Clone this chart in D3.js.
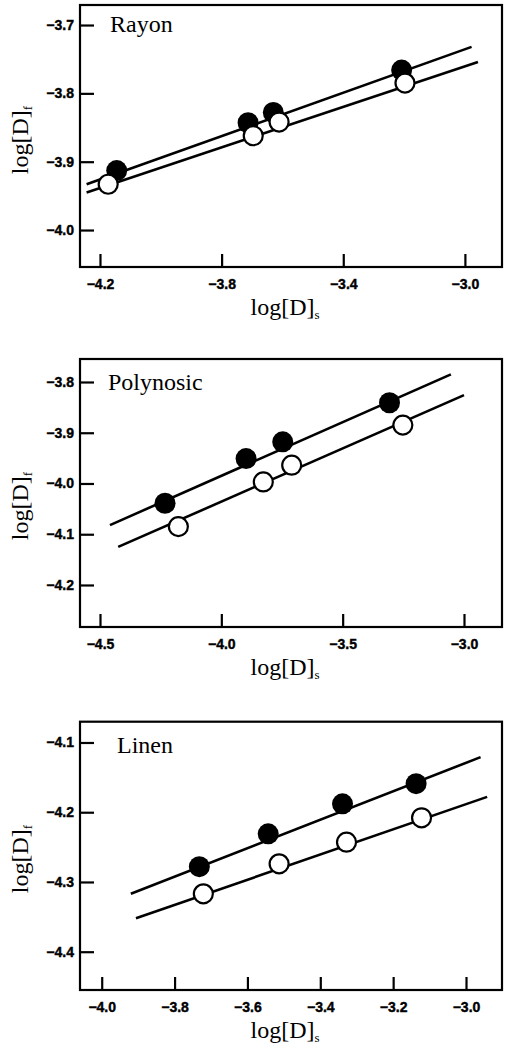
<!DOCTYPE html>
<html>
<head>
<meta charset="utf-8">
<script src="https://cdn.jsdelivr.net/npm/d3@7"></script>
<style>
  body { margin: 0; background: #fff; }
  svg { display: block; }
</style>
</head>
<body>
<div id="plot"></div>
<script>
// data: [log[D]s, log[D]f]
const panelNames = ["Rayon", "Polynosic", "Linen"];

const rayonFilled = [[-4.145, -3.913], [-3.713, -3.843], [-3.630, -3.828], [-3.208, -3.766]];
const rayonOpen = [[-4.173, -3.933], [-3.696, -3.862], [-3.611, -3.842], [-3.197, -3.785]];
const rayonFilledLine = [[-4.244, -3.933], [-2.978, -3.732]];
const rayonOpenLine = [[-4.244, -3.945], [-2.957, -3.754]];

const polyFilled = [[-4.232, -4.039], [-3.898, -3.951], [-3.747, -3.918], [-3.307, -3.841]];
const polyOpen = [[-4.177, -4.085], [-3.827, -3.997], [-3.710, -3.964], [-3.252, -3.885]];
const polyFilledLine = [[-4.459, -4.082], [-3.054, -3.785]];
const polyOpenLine = [[-4.425, -4.125], [-3.000, -3.826]];

const linenFilled = [[-3.732, -4.278], [-3.543, -4.231], [-3.339, -4.188], [-3.137, -4.159]];
const linenOpen = [[-3.721, -4.317], [-3.513, -4.274], [-3.328, -4.243], [-3.122, -4.208]];
const linenFilledLine = [[-3.920, -4.317], [-2.960, -4.121]];
const linenOpenLine = [[-3.906, -4.352], [-2.942, -4.178]];

// tick values
const rayonXTicks = [-4.2, -3.8, -3.4, -3.0];
const rayonYTicks = [-3.7, -3.8, -3.9, -4.0];
const polyXTicks = [-4.5, -4.0, -3.5, -3.0];
const polyYTicks = [-3.8, -3.9, -4.0, -4.1, -4.2];
const linenXTicks = [-4.0, -3.8, -3.6, -3.4, -3.2, -3.0];
const linenYTicks = [-4.1, -4.2, -4.3, -4.4];

// axis extents
const rayonXDomain = [-4.2657, -2.878], rayonYDomain = [-4.0541, -3.6707];
const polyXDomain = [-4.5824, -2.8434], polyYDomain = [-4.2828, -3.7547];
const linenXDomain = [-4.0596, -2.9012], linenYDomain = [-4.4549, -4.0702];

const width = 506;
const height = 1047;

const svg = d3.select("#plot").append("svg")
    .attr("width", width)
    .attr("height", height);

// layout of each panel on the page
const panels = [
    {name: panelNames[0], top: 5, bottom: 267, xDomain: rayonXDomain, yDomain: rayonYDomain,
     xTicks: rayonXTicks, yTicks: rayonYTicks, filled: rayonFilled, open: rayonOpen,
     filledLine: rayonFilledLine, openLine: rayonOpenLine, labelX: 110, labelY: 32, yTitle: 140},
    {name: panelNames[1], top: 359, bottom: 627, xDomain: polyXDomain, yDomain: polyYDomain,
     xTicks: polyXTicks, yTicks: polyYTicks, filled: polyFilled, open: polyOpen,
     filledLine: polyFilledLine, openLine: polyOpenLine, labelX: 108, labelY: 390, yTitle: 506},
    {name: panelNames[2], top: 721.7, bottom: 990, xDomain: linenXDomain, yDomain: linenYDomain,
     xTicks: linenXTicks, yTicks: linenYTicks, filled: linenFilled, open: linenOpen,
     filledLine: linenFilledLine, openLine: linenOpenLine, labelX: 117, labelY: 753, yTitle: 859}
];

const left = 80, right = 502;

panels.forEach(p => {
    const g = svg.append("g");

    const xScale = d3.scaleLinear().domain(p.xDomain).range([left, right]);
    const yScale = d3.scaleLinear().domain(p.yDomain).range([p.bottom, p.top]);

    // frame
    g.append("rect")
        .attr("x", left)
        .attr("y", p.top)
        .attr("width", right - left)
        .attr("height", p.bottom - p.top)
        .attr("fill", "none")
        .attr("stroke", "#000")
        .attr("stroke-width", 2.2);

    // axes with inward ticks
    const xAxis = d3.axisBottom(xScale)
        .tickValues(p.xTicks)
        .tickSize(-13)
        .tickPadding(12)
        .tickFormat(d3.format(".1f"));
    const yAxis = d3.axisLeft(yScale)
        .tickValues(p.yTicks)
        .tickSize(-14)
        .tickPadding(6)
        .tickFormat(d3.format(".1f"));

    const gx = g.append("g")
        .attr("transform", `translate(0, ${p.bottom})`)
        .call(xAxis);
    const gy = g.append("g")
        .attr("transform", `translate(${left}, 0)`)
        .call(yAxis);

    [gx, gy].forEach(a => {
        a.select(".domain").remove();
        a.selectAll(".tick line").attr("stroke", "#000").attr("stroke-width", 2.2);
        a.selectAll(".tick text")
            .attr("fill", "#000")
            .attr("font-family", "'Liberation Sans', Arial, sans-serif")
            .attr("font-weight", "bold")
            .attr("font-size", 14)
            .attr("stroke", "#000")
            .attr("stroke-width", 0.4);
    });

    // fitted lines
    const line = d3.line().x(d => xScale(d[0])).y(d => yScale(d[1]));
    [p.filledLine, p.openLine].forEach(l => {
        g.append("path")
            .attr("d", line(l))
            .attr("fill", "none")
            .attr("stroke", "#000")
            .attr("stroke-width", 2.6);
    });

    // points
    g.selectAll(".filled")
        .data(p.filled)
        .enter()
        .append("circle")
        .attr("class", "filled")
        .attr("cx", d => xScale(d[0]))
        .attr("cy", d => yScale(d[1]))
        .attr("r", 10.5)
        .attr("fill", "#000");

    g.selectAll(".open")
        .data(p.open)
        .enter()
        .append("circle")
        .attr("class", "open")
        .attr("cx", d => xScale(d[0]))
        .attr("cy", d => yScale(d[1]))
        .attr("r", 9.5)
        .attr("fill", "#fff")
        .attr("stroke", "#000")
        .attr("stroke-width", 2.2);

    // panel name
    g.append("text")
        .attr("x", p.labelX)
        .attr("y", p.labelY)
        .attr("font-family", "'Liberation Serif', 'Times New Roman', serif")
        .attr("font-size", 24)
        .text(p.name);

    // x axis title
    const xt = g.append("text")
        .attr("x", 285)
        .attr("y", p.bottom + 48)
        .attr("text-anchor", "middle")
        .attr("font-family", "'Liberation Serif', 'Times New Roman', serif")
        .attr("font-size", 24);
    xt.append("tspan").text("log[D]");
    xt.append("tspan").attr("font-size", 13).attr("dy", 4).text("s");

    // y axis title
    const yt = g.append("text")
        .attr("transform", `translate(28, ${p.yTitle}) rotate(-90)`)
        .attr("text-anchor", "middle")
        .attr("font-family", "'Liberation Serif', 'Times New Roman', serif")
        .attr("font-size", 24);
    yt.append("tspan").text("log[D]");
    yt.append("tspan").attr("font-size", 13).attr("dy", 4).text("f");
});
</script>
</body>
</html>
